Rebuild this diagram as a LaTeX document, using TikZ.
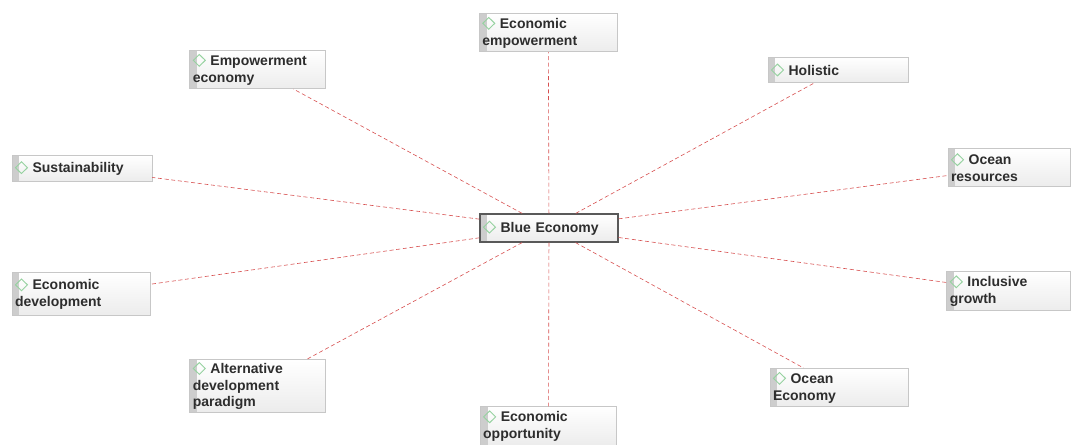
\documentclass[tikz,border=0pt]{standalone}
\usepackage{fontspec}
\setmainfont{Liberation Sans}

\definecolor{boxgray}{RGB}{236,236,236}
\definecolor{bargray}{RGB}{205,205,205}
\definecolor{icongreen}{RGB}{150,210,160}
\definecolor{linkred}{RGB}{215,80,80}
\definecolor{textgray}{RGB}{45,45,45}

% small green diamond icon
\newcommand{\dia}{\tikz[baseline=0pt]\draw[icongreen, line width=0.7pt] (0pt,3.8pt) -- (4.5pt,8.2pt) -- (9pt,3.8pt) -- (4.5pt,-0.6pt) -- cycle;\ }

\tikzset{
	termbox/.style={rectangle, draw=black!22, top color=white, bottom color=boxgray,
		inner xsep=2.25pt, inner ysep=1pt, align=left, text width=#1, text=textgray,
		font=\bfseries\fontsize{10.5}{12.5}\selectfont,
		path picture={\fill[bargray] (path picture bounding box.north west) rectangle ([xshift=5.5pt]path picture bounding box.south west);}},
	twoline/.style={minimum height=29pt},
	oneline/.style={minimum height=19pt},
	link/.style={draw=linkred, densely dashed, line width=0.45pt}
}
\tikzset{every picture/.style={line width=0.75pt}}

\begin{document}
\begin{tikzpicture}[x=0.75pt,y=0.75pt,yscale=-1,xscale=1]
	\useasboundingbox (0,0) rectangle (1075,445);

	%Shape: Box [id:centre]
	\node (be) at (549,228) [termbox=99pt, minimum height=21pt, draw=black!65, line width=0.9pt] {\dia Blue Economy};

	%Shape: Box [id:ring]
	\node (ecemp) at (548.3,32.5) [termbox=99pt, twoline] {\dia Economic\\empowerment};
	\node (empeco) at (257.5,69.5) [termbox=97pt, twoline] {\dia Empowerment\\economy};
	\node (holis) at (838,70) [termbox=100.5pt, oneline] {\dia Holistic};
	\node (sust) at (82,168.5) [termbox=100.5pt, oneline] {\dia Sustainability};
	\node (ocres) at (1009,167.5) [termbox=87pt, twoline] {\dia Ocean\\resources};
	\node (ecdev) at (81,294) [termbox=99pt, minimum height=32pt] {\dia Economic\\development};
	\node (incgr) at (1008.5,291) [termbox=88pt, twoline] {\dia Inclusive\\growth};
	\node (altdev) at (257.5,386) [termbox=97pt, minimum height=39pt] {\dia Alternative\\development\\paradigm};
	\node (oceco) at (839,387.5) [termbox=99pt, twoline] {\dia Ocean\\Economy};
	\node (ecopp) at (548.5,426) [termbox=98pt, twoline] {\dia Economic\\opportunity};

	% Links
	\begin{scope}[link]
		\foreach \t in {ecemp,empeco,holis,sust,ocres,ecdev,incgr,altdev,oceco,ecopp}
			\draw (be) -- (\t);
	\end{scope}

\end{tikzpicture}
\end{document}
